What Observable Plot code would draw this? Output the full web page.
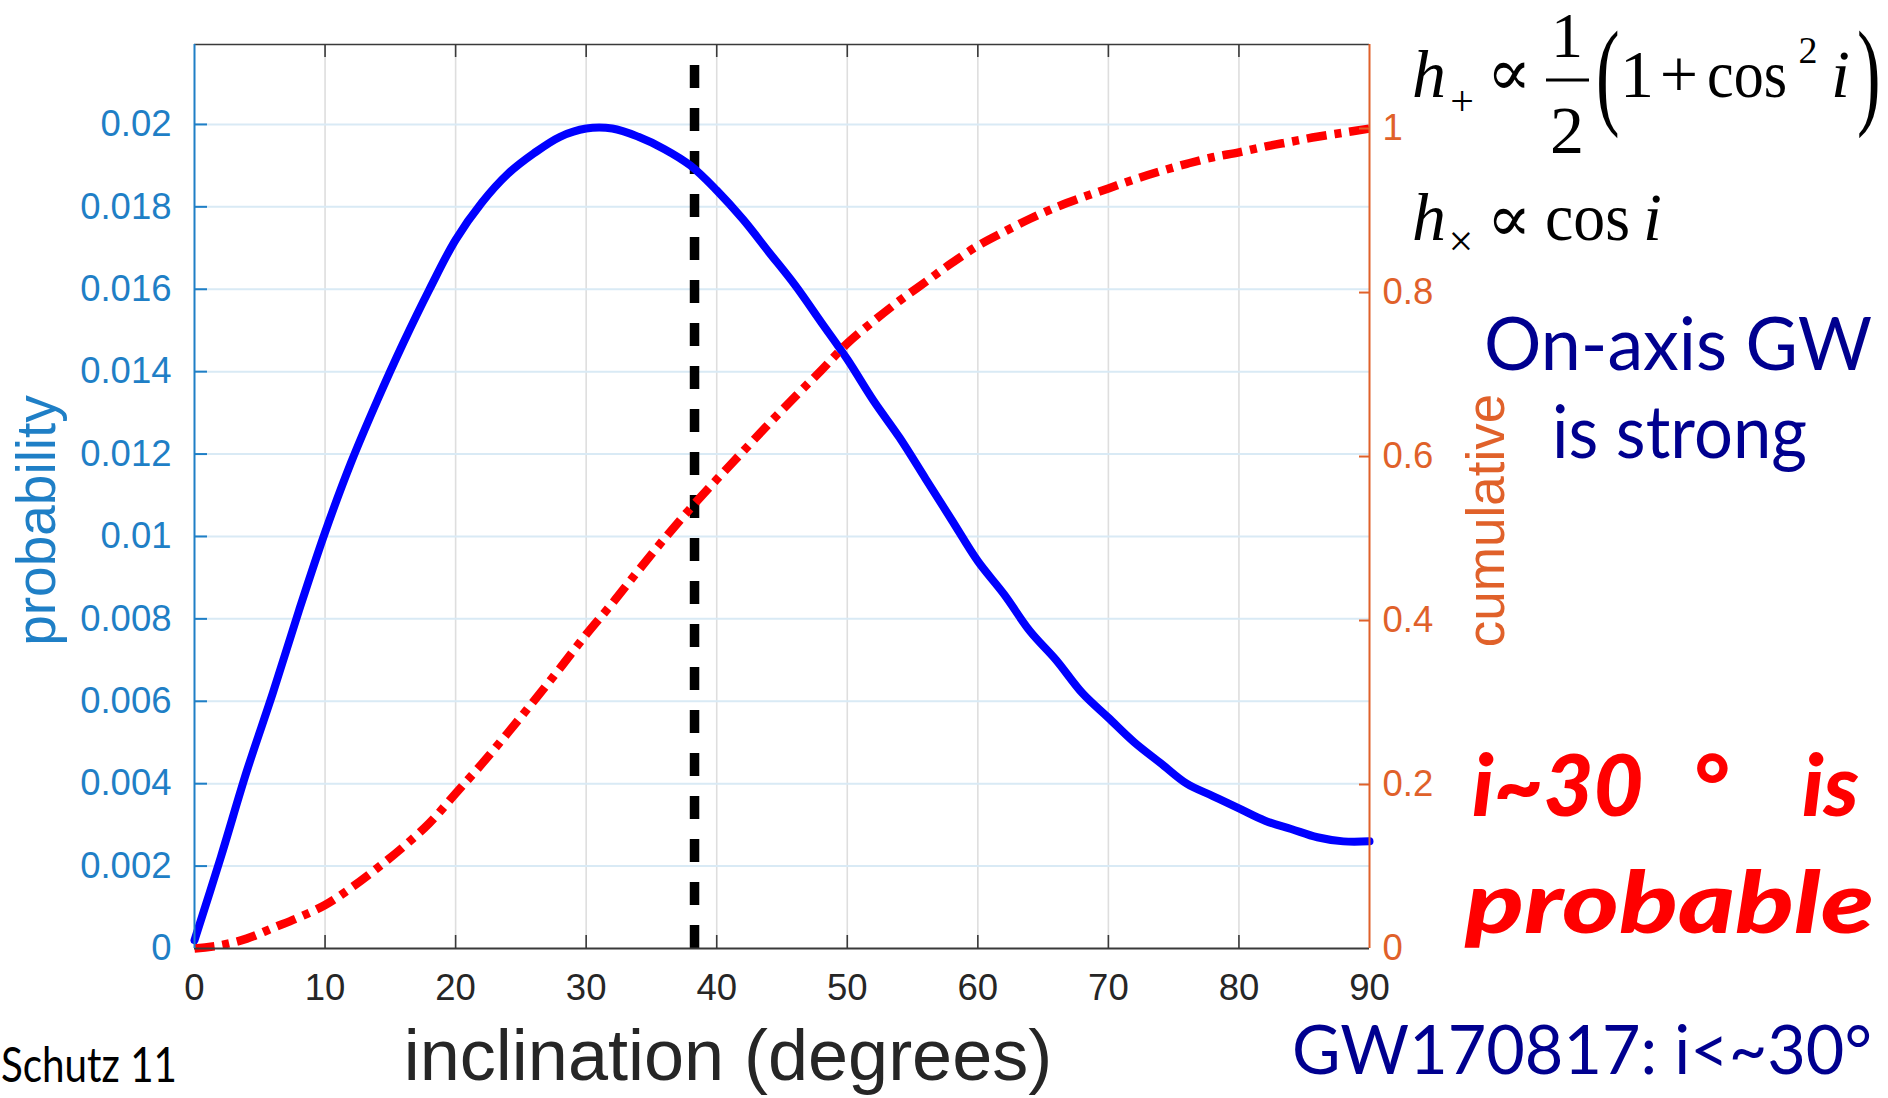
<!DOCTYPE html>
<html>
<head>
<meta charset="utf-8">
<script src="https://cdn.jsdelivr.net/npm/d3@7"></script>
<script src="https://cdn.jsdelivr.net/npm/@observablehq/plot@0.6"></script>
<style>
  html, body { margin: 0; padding: 0; background: #fff; overflow: hidden; }
  #chart { position: relative; width: 1888px; height: 1098px; overflow: hidden; background: #fff; }
</style>
</head>
<body>
<div id="chart"></div>
<script>
// ---------------- data ----------------
const inclination = [0, 2, 4, 6, 8, 10, 12, 14, 16, 18, 20, 22, 24, 26, 28, 30, 32, 34, 36, 38, 40, 42, 44,
  46, 48, 50, 52, 54, 56, 58, 60, 62, 64, 66, 68, 70, 72, 74, 76, 78, 80, 82, 84, 86, 88, 90];
const probability = [0.0002, 0.0022, 0.0043, 0.0062, 0.0082, 0.0101, 0.0118, 0.0133, 0.0147, 0.0160, 0.0172,
  0.0181, 0.0188, 0.0193, 0.0197, 0.0199, 0.0199, 0.0197, 0.0194, 0.0190, 0.0184, 0.0177, 0.0169,
  0.0161, 0.0152, 0.0143, 0.0133, 0.0124, 0.0114, 0.0104, 0.0094, 0.0086, 0.0077, 0.0070, 0.0062,
  0.0056, 0.0050, 0.0045, 0.0040, 0.0037, 0.0034, 0.0031, 0.0029, 0.0027, 0.0026, 0.0026];
const cumulative = [0.000, 0.004, 0.012, 0.025, 0.038, 0.053, 0.074, 0.098, 0.124, 0.153, 0.189,
  0.225, 0.263, 0.302, 0.342, 0.383, 0.421, 0.461, 0.500, 0.537, 0.572, 0.606, 0.640,
  0.673, 0.705, 0.738, 0.765, 0.790, 0.813, 0.836, 0.857, 0.874, 0.890, 0.904, 0.916,
  0.927, 0.938, 0.948, 0.957, 0.965, 0.971, 0.978, 0.984, 0.990, 0.995, 1.000];
const xTicks = [0, 10, 20, 30, 40, 50, 60, 70, 80, 90];
const probTicks = [0, 0.002, 0.004, 0.006, 0.008, 0.01, 0.012, 0.014, 0.016, 0.018, 0.02];
const cumTicks = [0, 0.2, 0.4, 0.6, 0.8, 1];
const thresholdInclination = [38.3];
const xLabel = "inclination (degrees)";
const yLabelLeft = "probability";
const yLabelRight = "cumulative";

// ---------------- layout ----------------
const W = 1888, H = 1098;
const mL = 194, mR = 519, mT = 44, mB = 150;
const plotW = W - mL - mR, plotH = H - mT - mB;
const yMax = 0.02194;          // top of left axis
const cumToProb = 0.0199;      // right-axis value 1 sits at this left-axis value

const blueAxis = "#1f7fc6", orangeAxis = "#e0612a", dark = "#3a3a3a", labelGray = "#262626";
const gridBlue = "#d9eaf5", gridGray = "#dedede";
const sans = "'Liberation Sans', Arial, Helvetica, sans-serif";
const tickFont = 36.5;

const rows = inclination.map((x, i) => ({x, p: probability[i], c: cumulative[i]}));
const innerX = xTicks.filter(d => d > 0 && d < 90);

const chart = Plot.plot({
  width: W, height: H,
  marginLeft: mL, marginRight: mR, marginTop: mT, marginBottom: mB,
  x: {domain: [0, 90], axis: null},
  y: {domain: [0, yMax], axis: null},
  style: {background: "white", fontFamily: sans, overflow: "visible"},
  marks: [
    // grid
    Plot.ruleX(innerX, {stroke: gridGray, strokeWidth: 1.6}),
    Plot.ruleY(probTicks.filter(d => d > 0), {stroke: gridBlue, strokeWidth: 2}),
    // threshold line
    Plot.ruleX(thresholdInclination, {y1: 0, y2: yMax, stroke: "black", strokeWidth: 9.5, strokeDasharray: "23,20"}),
    // curves
    Plot.line(rows, {x: "x", y: "p", stroke: "#0000ff", strokeWidth: 8, curve: "catmull-rom", strokeLinejoin: "round"}),
    Plot.line(rows, {x: "x", y: d => d.c * cumToProb, stroke: "#ff0000", strokeWidth: 8.5,
      curve: "catmull-rom", strokeDasharray: "20,8,7,8", strokeLinecap: "butt"}),
    // frame
    Plot.ruleY([yMax], {stroke: dark, strokeWidth: 1.6}),
    Plot.ruleY([0], {stroke: dark, strokeWidth: 2}),
    Plot.tickX(innerX, {x: d => d, insetTop: plotH - 13, stroke: dark, strokeWidth: 1.6}),
    Plot.tickX(innerX, {x: d => d, insetBottom: plotH - 13, stroke: dark, strokeWidth: 1.6}),
    Plot.ruleX([0], {stroke: blueAxis, strokeWidth: 2}),
    Plot.ruleX([90], {stroke: orangeAxis, strokeWidth: 2}),
    Plot.tickY(probTicks.filter(d => d > 0), {y: d => d, insetRight: plotW - 13, stroke: blueAxis, strokeWidth: 2}),
    Plot.tickY(cumTicks.filter(d => d > 0), {y: d => d * cumToProb, insetLeft: plotW - 10, stroke: orangeAxis, strokeWidth: 2}),
    // tick labels
    Plot.text(xTicks, {x: d => d, frameAnchor: "bottom", dy: 40, lineAnchor: "middle", textAnchor: "middle",
      text: d => String(d), fill: labelGray, fontSize: tickFont}),
    Plot.text(probTicks, {y: d => d, frameAnchor: "left", dx: -23, textAnchor: "end", lineAnchor: "middle",
      text: d => String(+d.toFixed(3)), fill: blueAxis, fontSize: tickFont}),
    Plot.text(cumTicks, {y: d => d * cumToProb, frameAnchor: "right", dx: 13, textAnchor: "start", lineAnchor: "middle",
      text: d => String(+d.toFixed(1)), fill: orangeAxis, fontSize: tickFont}),
    // axis titles
    Plot.text([yLabelLeft], {frameAnchor: "left", dx: -157, dy: 24, rotate: -90, textAnchor: "middle", lineAnchor: "middle",
      fill: blueAxis, fontSize: 55}),
    Plot.text([yLabelRight], {frameAnchor: "right", dx: 118, dy: 24, rotate: -90, textAnchor: "middle", lineAnchor: "middle",
      fill: orangeAxis, fontSize: 53}),
    Plot.text([xLabel], {frameAnchor: "bottom", dx: -54, dy: 108, textAnchor: "middle", lineAnchor: "middle",
      fill: labelGray, fontSize: 72})
  ]
});
document.getElementById("chart").appendChild(chart);

// ---------------- annotations (slide text beside the chart) ----------------
const svg = d3.select(chart);
const ann = svg.append("g").attr("class", "annotations").attr("text-anchor", "start");
const serif = "'Liberation Serif', 'Times New Roman', 'DejaVu Serif', serif";
const gill = "Lato, 'Open Sans', 'Noto Sans', sans-serif";

function put(str, x, y, o = {}) {
  const t = ann.append("text")
    .attr("x", x).attr("y", y)
    .attr("font-family", o.family || serif)
    .attr("font-size", o.size || 68)
    .attr("fill", o.fill || "black")
    .attr("text-anchor", o.anchor || "start")
    .text(str);
  if (o.italic) t.attr("font-style", "italic");
  if (o.weight) t.attr("font-weight", o.weight);
  if (o.len) t.attr("textLength", o.len).attr("lengthAdjust", "spacingAndGlyphs");
  if (o.transform) t.attr("x", null).attr("y", null).attr("transform", o.transform);
  return t;
}

// h+ ∝ 1/2 (1 + cos² i)
put("h", 1412, 97, {italic: true});
put("+", 1462, 115, {size: 42, anchor: "middle"});
put("\u221D", 1509, 95, {size: 66, anchor: "middle"});
put("1", 1567, 57, {size: 64, anchor: "middle"});
ann.append("line").attr("x1", 1546).attr("x2", 1589).attr("y1", 80).attr("y2", 80)
  .attr("stroke", "black").attr("stroke-width", 3);
put("2", 1567, 153, {anchor: "middle"});
put("(", 0, 0, {size: 118, transform: "translate(1596,113) scale(0.6,1)"});
put("1", 1637, 97, {anchor: "middle"});
put("+", 1679, 97, {anchor: "middle"});
put("cos", 1707, 97, {len: 80});
put("2", 1808, 63, {size: 38, anchor: "middle"});
put("i", 1831, 97, {italic: true});
put(")", 0, 0, {size: 118, transform: "translate(1857,113) scale(0.6,1)"});

// h× ∝ cos i
put("h", 1412, 240, {italic: true});
put("\u00D7", 1461, 256, {size: 44, anchor: "middle"});
put("\u221D", 1509, 241, {size: 66, anchor: "middle"});
put("cos", 1545, 240, {len: 85});
put("i", 1643, 240, {italic: true});

const navy = "#00008f";
put("On-axis GW", 1484, 370, {family: gill, size: 74, fill: navy, len: 388});
put("is strong", 1552, 458, {family: gill, size: 74, fill: navy, len: 255});

const red = "#ff0000";
const l1 = ann.append("text").attr("y", 816).attr("font-family", gill).attr("font-size", 86)
  .attr("font-weight", 900).attr("font-style", "italic").attr("fill", red).attr("text-anchor", "start");
l1.append("tspan").attr("x", 1472).text("i~30");
l1.append("tspan").attr("x", 1692).text("\u00B0 ");
l1.append("tspan").attr("x", 1802).text("is");
put("probable", 1465, 933, {family: gill, size: 86, weight: 900, italic: true, fill: red, len: 409});

put("GW170817: i<~30\u00B0", 1292, 1074, {family: gill, size: 68, fill: navy, len: 580});
put("Schutz 11", 1, 1082, {family: gill, size: 48, fill: "black", len: 176});
</script>
</body>
</html>
